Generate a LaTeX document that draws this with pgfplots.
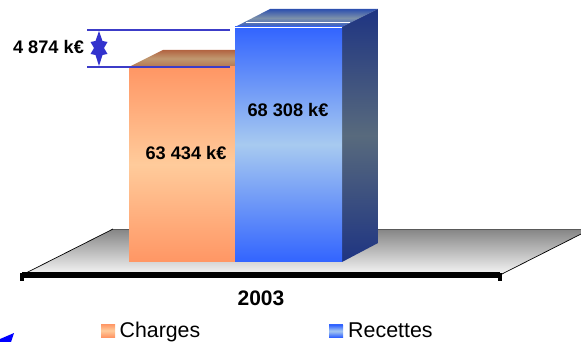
\documentclass[border=0pt]{standalone}
\usepackage{pgfplots}
\pgfplotsset{compat=1.18}
\usepackage{fontspec}
\setmainfont{Liberation Sans}
\definecolor{orA}{RGB}{255,150,100}
\definecolor{orB}{RGB}{255,203,155}
\definecolor{orT1}{RGB}{178,100,65}
\definecolor{orT2}{RGB}{192,152,112}
\definecolor{orT3}{RGB}{180,118,80}
\definecolor{blA}{RGB}{50,100,255}
\definecolor{blB}{RGB}{168,202,240}
\definecolor{blT1}{RGB}{45,80,175}
\definecolor{blT2}{RGB}{125,145,170}
\definecolor{blT3}{RGB}{50,90,195}
\definecolor{sdA}{RGB}{30,52,130}
\definecolor{sdB}{RGB}{88,106,125}
\definecolor{ann}{RGB}{60,60,200}
\definecolor{star}{RGB}{50,50,205}
\pgfplotsset{base/.style={
  scale only axis,width=581pt,height=342pt,hide axis,
  xmin=0,xmax=581,clip=true},
  px/.style={base,ymin=0,ymax=342,y dir=reverse},
  val/.style={base,ymin=29925,ymax=71598}}
\begin{document}
\begin{tikzpicture}
\path[use as bounding box] (0,0) rectangle (581pt,342pt);
% floor (pixel coordinates)
\begin{axis}[px]
\addplot[draw=none,shade,top color=black!48,bottom color=black!3] coordinates {(22,275)(113,229)(591,229)(500,275)} --cycle;
\addplot[black,line width=0.7pt] coordinates {(22,275)(113,229)};
\addplot[black!65,line width=1pt] coordinates {(113,229)(581,229)};
\addplot[black,line width=0.7pt] coordinates {(500,275)(591,229)};
\addplot[black,line width=5.5pt] coordinates {(22,275)(500,275)};
\addplot[black,line width=4.5pt] coordinates {(22,273)(22,281)};
\addplot[black,line width=4.5pt] coordinates {(500,273)(500,281)};
\end{axis}
% bars (values in k euros)
\begin{axis}[val]
\addplot[draw=none,shade,top color=orT1,bottom color=orT3,middle color=orT2] coordinates {(129,63434)(163,65506)(235,65506)(235,63434)} --cycle;
\addplot[draw=none,shade,top color=orA,bottom color=orA,middle color=orB] coordinates {(129,39673)(235,39673)(235,63434)(129,63434)} --cycle;
\addplot[draw=none,shade,top color=blT1,bottom color=blT3,middle color=blT2] coordinates {(235,68308)(270,70501)(378,70501)(342,68308)} --cycle;
\addplot[draw=none,shade,top color=sdA,bottom color=sdA,middle color=sdB] coordinates {(342,39673)(378,41988)(378,70501)(342,68308)} --cycle;
\addplot[draw=none,shade,top color=blA,bottom color=blA,middle color=blB] coordinates {(235,39673)(342,39673)(342,68308)(235,68308)} --cycle;
\end{axis}
% annotations (pixel coordinates)
\begin{axis}[px]
\addplot[white,line width=0.8pt] coordinates {(235,27)(342,27)};
\addplot[white,line width=0.8pt] coordinates {(246,22)(350,22)};
\addplot[ann,line width=1.7pt] coordinates {(87,30)(230,30)};
\addplot[ann,line width=1.7pt] coordinates {(87,67)(230,67)};
\addplot[draw=none,fill=star] coordinates {(99,31)(102.5,41)(107.5,42)(104,48)(107.5,54)(102.5,55)(99,66)(95.5,55)(90.5,54)(94,48)(90.5,42)(95.5,41)} --cycle;
\addplot[draw=none,fill=blue] coordinates {(0,339)(14,333)(11,342)(0,342)} --cycle;
\addplot[draw=none,shade,top color=orA,bottom color=orA,middle color=orB] coordinates {(101,324)(115,324)(115,337)(101,337)} --cycle;
\addplot[draw=none,shade,top color=blA,bottom color=blA,middle color=blB] coordinates {(329,325)(343,325)(343,337)(329,337)} --cycle;
\addplot[blA,line width=0.7pt] coordinates {(329,324)(343,324)};
\node[anchor=center,font=\fontsize{18.2}{20}\selectfont\bfseries,inner sep=0] at (axis cs:48.5,47) {4 874 k€};
\node[anchor=center,font=\fontsize{18.2}{20}\selectfont\bfseries,inner sep=0] at (axis cs:186,153) {63 434 k€};
\node[anchor=center,font=\fontsize{18.2}{20}\selectfont\bfseries,inner sep=0] at (axis cs:288,110) {68 308 k€};
\node[anchor=center,font=\fontsize{21}{24}\selectfont\bfseries,inner sep=0] at (axis cs:261,298) {2003};
\node[anchor=base west,font=\fontsize{21.3}{24}\selectfont,inner sep=0] at (axis cs:119.5,337) {Charges};
\node[anchor=base west,font=\fontsize{21.4}{24}\selectfont,inner sep=0] at (axis cs:348,337) {Recettes};
\end{axis}
\end{tikzpicture}
\end{document}
